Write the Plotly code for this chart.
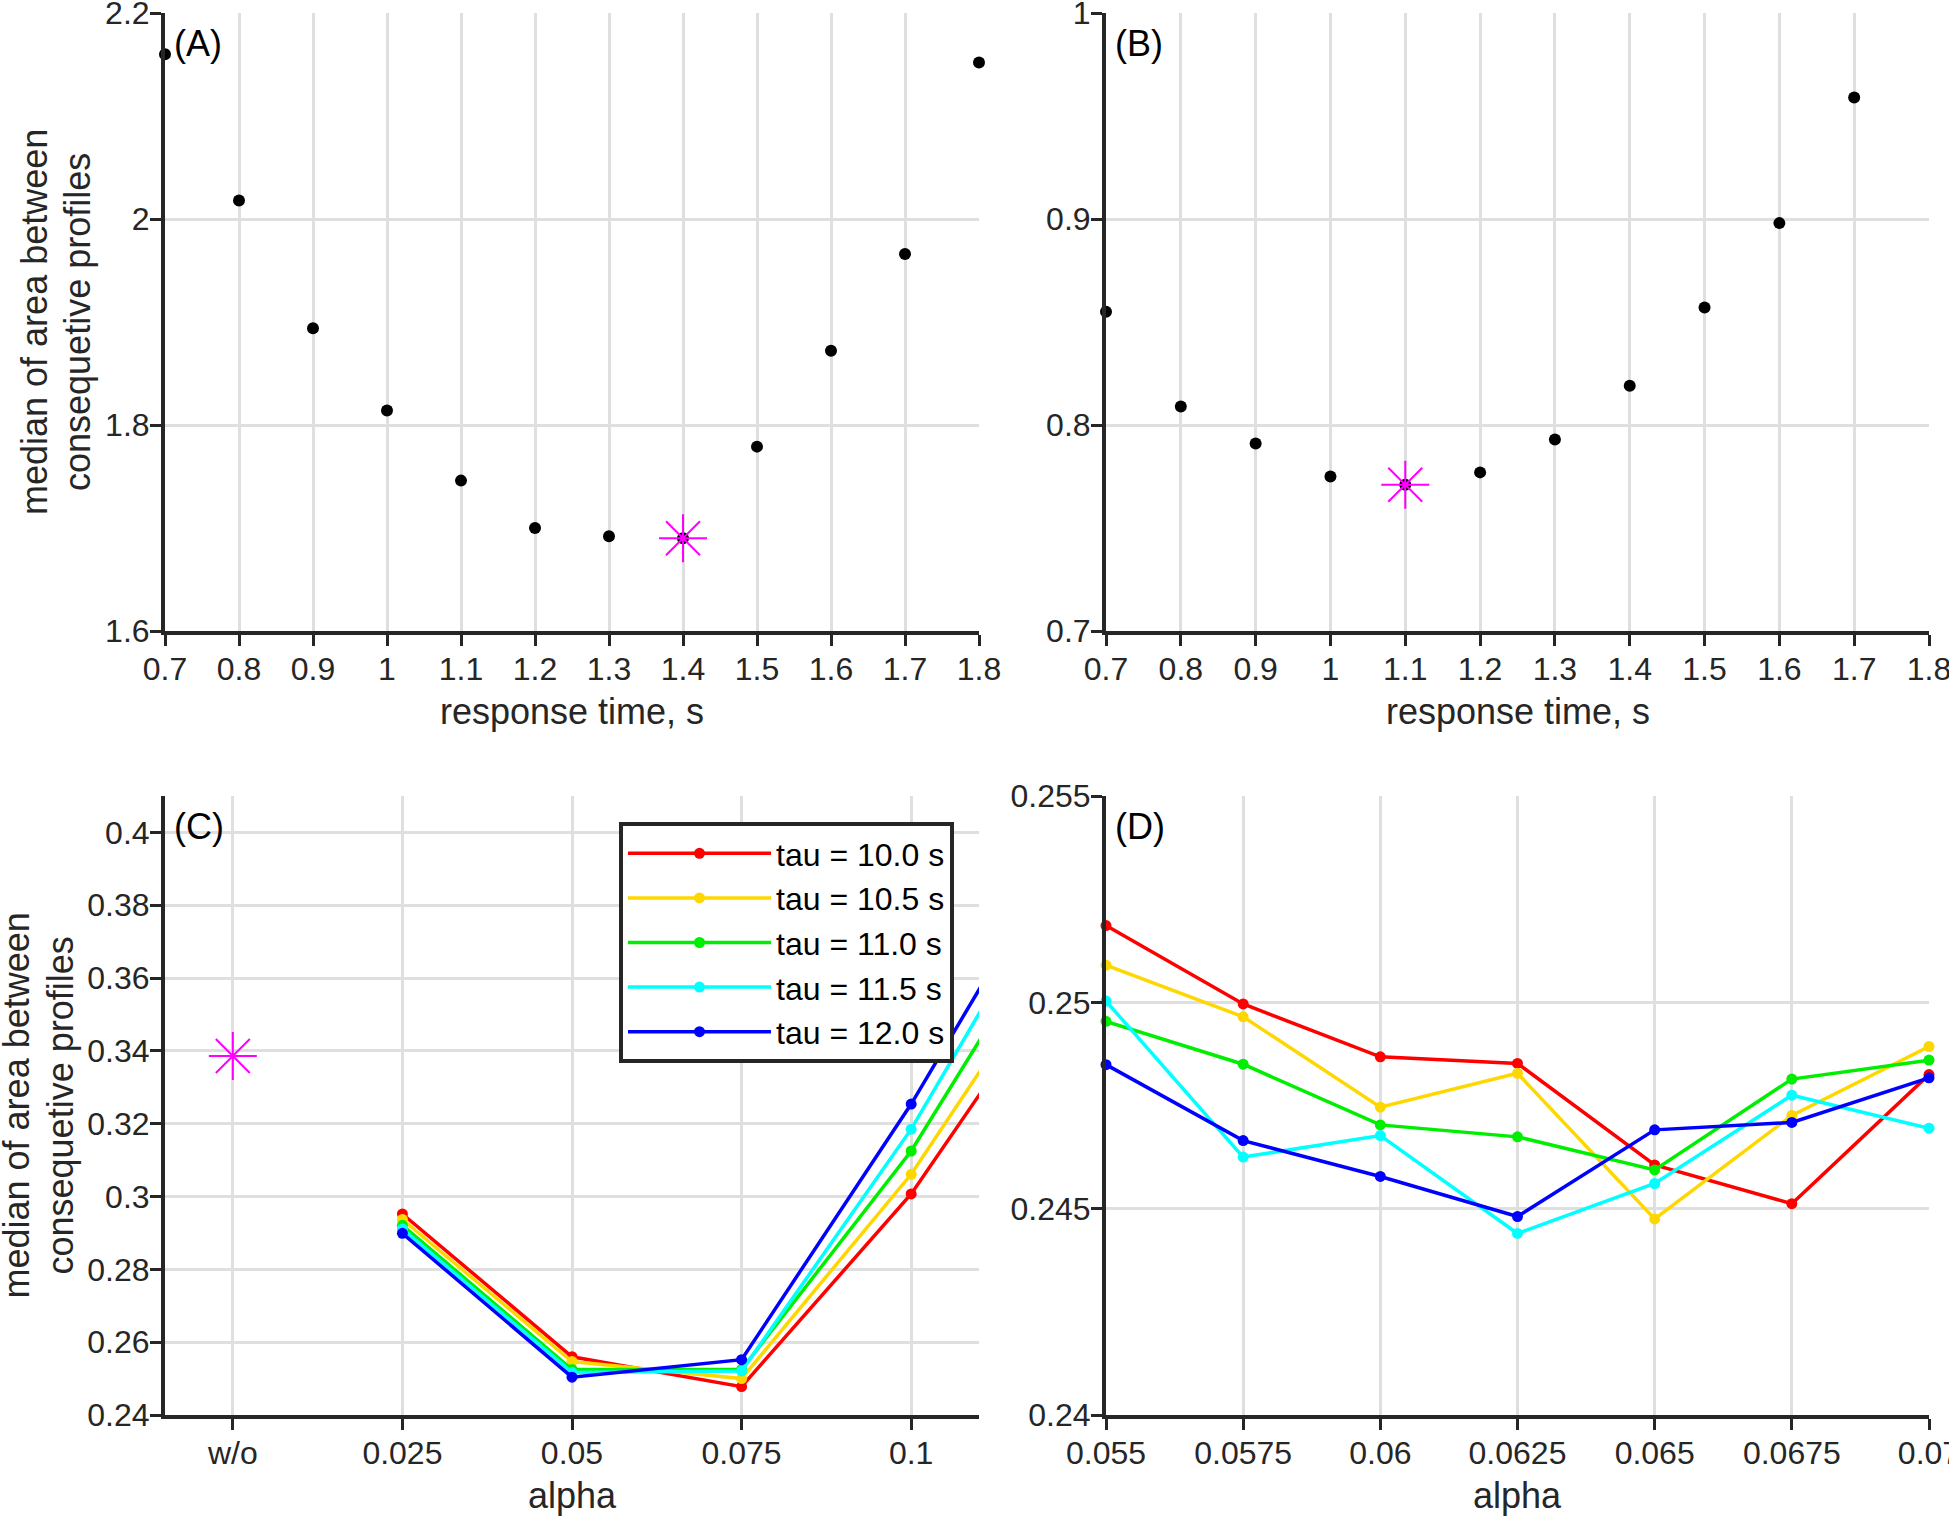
import plotly.graph_objects as go
from plotly.subplots import make_subplots

# (A) and (B): median area vs response time
resp_time = [0.7, 0.8, 0.9, 1.0, 1.1, 1.2, 1.3, 1.4, 1.5, 1.6, 1.7, 1.8]
area_a = [2.160, 2.018, 1.894, 1.814, 1.746, 1.700, 1.692, 1.690, 1.779, 1.872, 1.966, 2.152]
area_b = [0.855, 0.809, 0.791, 0.775, 0.771, 0.777, 0.793, 0.819, 0.857, 0.898, 0.959, None]
best_a = (1.4, 1.690)
best_b = (1.1, 0.771)

# (C): coarse alpha scan, "w/o" = without filtering
alpha_c = [0.025, 0.05, 0.075, 0.1, 0.125]
tau_names = ["tau = 10.0 s", "tau = 10.5 s", "tau = 11.0 s", "tau = 11.5 s", "tau = 12.0 s"]
area_c = [
    [0.2952, 0.2560, 0.2478, 0.3007, 0.3685],
    [0.2937, 0.2547, 0.2500, 0.3061, 0.3759],
    [0.2921, 0.2525, 0.2525, 0.3125, 0.3878],
    [0.2911, 0.2517, 0.2521, 0.3185, 0.3978],
    [0.2899, 0.2504, 0.2552, 0.3254, 0.4039],
]
area_without = 0.3386

# (D): fine alpha scan
alpha_d = [0.055, 0.0575, 0.06, 0.0625, 0.065, 0.0675, 0.07]
area_d = [
    [0.25186, 0.24996, 0.24868, 0.24852, 0.24606, 0.24512, 0.24825],
    [0.25090, 0.24965, 0.24746, 0.24828, 0.24475, 0.24726, 0.24893],
    [0.24954, 0.24850, 0.24703, 0.24674, 0.24594, 0.24814, 0.24860],
    [0.25003, 0.24625, 0.24677, 0.24440, 0.24561, 0.24775, 0.24695],
    [0.24849, 0.24665, 0.24578, 0.24481, 0.24691, 0.24709, 0.24817],
]

tau_colors = ["#ff0000", "#ffd700", "#00ee00", "#00ffff", "#0000ff"]
ink = "#262626"
font = "Liberation Sans"

W, H = 1949, 1516
fig = make_subplots(rows=2, cols=2)

star = dict(symbol="asterisk-open", size=40, color="magenta",
            line=dict(color="magenta", width=2))
dot = dict(size=12, color="black")

fig.add_trace(go.Scatter(x=resp_time, y=area_a, mode="markers", marker=dot,
                         cliponaxis=False, showlegend=False), row=1, col=1)
fig.add_trace(go.Scatter(x=[best_a[0]], y=[best_a[1]], mode="markers", marker=star,
                         showlegend=False), row=1, col=1)
fig.add_trace(go.Scatter(x=resp_time, y=area_b, mode="markers", marker=dot,
                         cliponaxis=False, showlegend=False), row=1, col=2)
fig.add_trace(go.Scatter(x=[best_b[0]], y=[best_b[1]], mode="markers", marker=star,
                         showlegend=False), row=1, col=2)

fig.add_trace(go.Scatter(x=[0], y=[area_without], mode="markers", marker=star,
                         showlegend=False), row=2, col=1)
for name, col, yc, yd in zip(tau_names, tau_colors, area_c, area_d):
    fig.add_trace(go.Scatter(x=alpha_c, y=yc, mode="lines+markers", name=name,
                             line=dict(color=col, width=3.5),
                             marker=dict(size=11, color=col),
                             legendgroup=name), row=2, col=1)
    fig.add_trace(go.Scatter(x=alpha_d, y=yd, mode="lines+markers", name=name,
                             line=dict(color=col, width=3.5),
                             marker=dict(size=11, color=col), cliponaxis=False,
                             legendgroup=name, showlegend=False), row=2, col=2)

# panel geometry in pixels (left, right, top, bottom)
boxes = {
    (1, 1): (165, 979, 13, 631),
    (1, 2): (1106, 1929, 13, 631),
    (2, 1): (165, 979, 796, 1415),
    (2, 2): (1106, 1929, 796, 1415),
}
axis_style = dict(showline=True, linecolor=ink, linewidth=4, mirror=False,
                  ticks="outside", ticklen=11, tickwidth=3, tickcolor=ink,
                  showgrid=True, gridcolor="#dfdfdf", gridwidth=3, zeroline=False,
                  automargin=False, ticklabeloverflow="allow",
                  tickfont=dict(family=font, size=32, color=ink))
for (r, c), (l, rr, t, b) in boxes.items():
    fig.update_xaxes(domain=[l / W, rr / W], ticklabelstandoff=-4,
                     row=r, col=c, **axis_style)
    fig.update_yaxes(domain=[1 - b / H, 1 - t / H], ticklabelstandoff=-6,
                     row=r, col=c, **axis_style)

tick_rt = [0.7, 0.8, 0.9, 1, 1.1, 1.2, 1.3, 1.4, 1.5, 1.6, 1.7, 1.8]
fig.update_xaxes(range=[0.7, 1.8], tickvals=tick_rt, ticktext=[f"{v:g}" for v in tick_rt],
                 row=1, col=1)
fig.update_xaxes(range=[0.7, 1.8], tickvals=tick_rt, ticktext=[f"{v:g}" for v in tick_rt],
                 row=1, col=2)
fig.update_yaxes(range=[1.6, 2.2], tickvals=[1.6, 1.8, 2, 2.2],
                 ticktext=["1.6", "1.8", "2", "2.2"], row=1, col=1)
fig.update_yaxes(range=[0.7, 1.0], tickvals=[0.7, 0.8, 0.9, 1],
                 ticktext=["0.7", "0.8", "0.9", "1"], row=1, col=2)
fig.update_xaxes(range=[-0.01, 0.11], tickvals=[0, 0.025, 0.05, 0.075, 0.1],
                 ticktext=["w/o", "0.025", "0.05", "0.075", "0.1"], row=2, col=1)
ytc = [0.24, 0.26, 0.28, 0.3, 0.32, 0.34, 0.36, 0.38, 0.4]
fig.update_yaxes(range=[0.24, 0.41], tickvals=ytc, ticktext=[f"{v:g}" for v in ytc],
                 row=2, col=1)
fig.update_xaxes(range=[0.055, 0.07], tickvals=alpha_d,
                 ticktext=[f"{v:g}" for v in alpha_d], row=2, col=2)
fig.update_yaxes(range=[0.24, 0.255], tickvals=[0.24, 0.245, 0.25, 0.255],
                 ticktext=["0.24", "0.245", "0.25", "0.255"], row=2, col=2)

# white boxes behind the panel letters (they hide the grid, as in the original)
axes_ids = {(1, 1): ("x", "y"), (1, 2): ("x2", "y2"), (2, 1): ("x3", "y3"), (2, 2): ("x4", "y4")}
letters = {(1, 1): "(A)", (1, 2): "(B)", (2, 1): "(C)", (2, 2): "(D)"}
for key, (xa, ya) in axes_ids.items():
    fig.add_shape(type="rect", xref=f"{xa} domain", yref=f"{ya} domain",
                  x0=0.004, x1=0.085, y0=0.865, y1=1.01, fillcolor="white",
                  line=dict(width=0), layer="below")
    fig.add_annotation(text=letters[key], xref=f"{xa} domain", yref=f"{ya} domain",
                       x=0.008, y=0.95, xanchor="left", yanchor="middle", showarrow=False,
                       font=dict(family=font, size=36, color="black"))

title_font = dict(family=font, size=36, color=ink)
for xa, txt, yp in [("x", "response time, s", 712), ("x2", "response time, s", 712),
                    ("x3", "alpha", 1495), ("x4", "alpha", 1495)]:
    fig.add_annotation(text=txt, xref=f"{xa} domain", yref="paper", x=0.5, y=1 - yp / H,
                       xanchor="center", yanchor="middle", showarrow=False, font=title_font)
# two-line y titles; (C) has wider tick labels, so its title sits further left
for ya, xps in [("y", (34, 77)), ("y3", (16, 60))]:
    for txt, xp in zip(["median of area between", "consequetive profiles"], xps):
        fig.add_annotation(text=txt, xref="paper", yref=f"{ya} domain", x=xp / W, y=0.5,
                           xanchor="center", yanchor="middle", textangle=-90,
                           showarrow=False, font=title_font)

fig.update_layout(
    width=W, height=H, autosize=False,
    margin=dict(l=0, r=0, t=0, b=0),
    paper_bgcolor="white", plot_bgcolor="white",
    legend=dict(x=619 / W, y=1 - 822 / H, xanchor="left", yanchor="top",
                bgcolor="white", bordercolor=ink, borderwidth=4,
                font=dict(family=font, size=32, color="black"),
                itemwidth=143, tracegroupgap=0),
)

# page body has an 8px default margin; drop it so the figure fills the window
fig.write_html("out.html", config={"displayModeBar": False},
               post_script="document.body.style.margin = '0px';")
